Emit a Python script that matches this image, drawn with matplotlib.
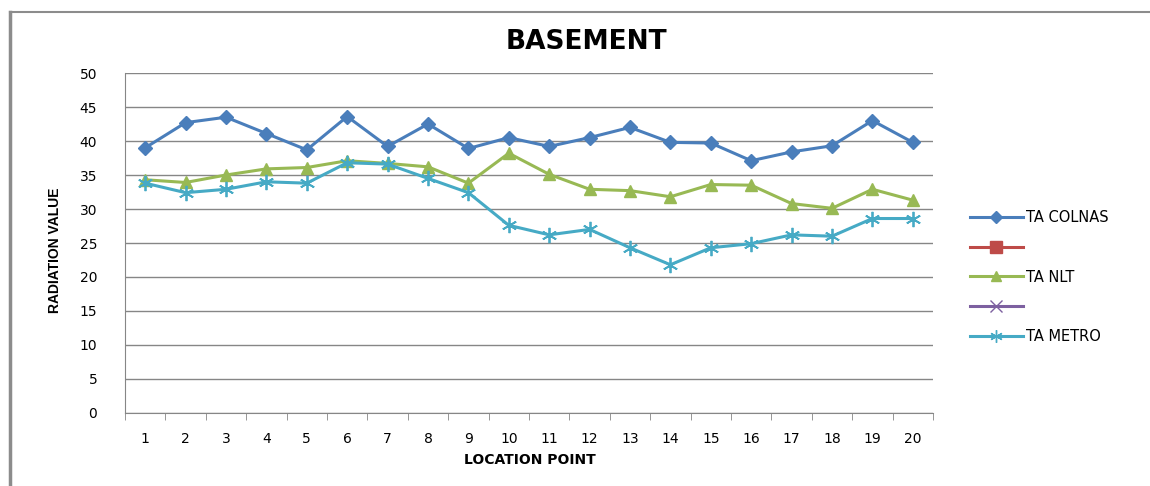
import numpy as np
import matplotlib
matplotlib.use("Agg")
import matplotlib.pyplot as plt
from matplotlib.lines import Line2D

# data
points = list(range(1, 21))
ta_colnas = [39.0, 42.7, 43.5, 41.1, 38.7, 43.6, 39.2, 42.5, 38.9, 40.5,
             39.2, 40.5, 42.0, 39.8, 39.7, 37.1, 38.4, 39.3, 43.0, 39.8]
ta_nlt = [34.3, 33.9, 35.0, 35.9, 36.1, 37.1, 36.7, 36.2, 33.8, 38.2,
          35.1, 32.9, 32.7, 31.8, 33.6, 33.5, 30.8, 30.1, 32.9, 31.3]
ta_metro = [33.8, 32.4, 32.9, 34.0, 33.8, 36.8, 36.6, 34.5, 32.4, 27.6,
            26.2, 27.0, 24.3, 21.8, 24.3, 24.9, 26.2, 26.0, 28.6, 28.6]
y_ticks = list(range(0, 51, 5))

fig = plt.figure(figsize=(11.5, 4.86), dpi=100)
ax = fig.add_axes([125 / 1150, 1 - 413 / 486, (933 - 125) / 1150, (413 - 73) / 486])

grid_col = "#868686"
ax.plot(points, ta_colnas, color="#4a7ebb", lw=2.2, marker="D", ms=7.5, zorder=3)
ax.plot(points, ta_nlt, color="#98b954", lw=2.2, marker="^", ms=9, zorder=3)
ax.plot(points, ta_metro, color="#46aac5", lw=2.2, marker=(6, 2, 0), ms=11,
        mew=1.3, zorder=3)

ax.set_xlim(0.5, 20.5)
ax.set_ylim(0, 50)
ax.set_yticks(y_ticks)
ax.set_xticks(points)
ax.tick_params(axis="both", labelsize=10, colors="black", length=0, pad=14)
ax.tick_params(axis="y", pad=20)
ax.yaxis.grid(True, color=grid_col, lw=1)
ax.set_axisbelow(True)
for s in ["top", "right"]:
    ax.spines[s].set_visible(False)
ax.spines["left"].set_color(grid_col)
ax.spines["bottom"].set_color(grid_col)
# small outward tick marks like Excel
ax.set_xticks(np.arange(0.5, 21, 1), minor=True)
ax.tick_params(axis="x", which="minor", length=5, color=grid_col, direction="out")
ax.set_yticks(y_ticks, minor=True)
ax.tick_params(axis="y", which="minor", length=5, color=grid_col, direction="out")

fig.text(586 / 1150, 1 - 42 / 486, "BASEMENT", ha="center", va="center",
         fontsize=19, fontweight="bold", family="DejaVu Sans")
fig.text(530 / 1150, 1 - 460 / 486, "LOCATION POINT", ha="center", va="center",
         fontsize=10, fontweight="bold")
fig.text(55 / 1150, 1 - 250 / 486, "RADIATION VALUE", ha="center", va="center",
         rotation=90, fontsize=10, fontweight="bold", family="Liberation Sans")

handles = [
    Line2D([], [], color="#4a7ebb", lw=2.2, marker="D", ms=6),
    Line2D([], [], color="#be4b48", lw=2.2, marker="s", ms=8),
    Line2D([], [], color="#98b954", lw=2.2, marker="^", ms=7),
    Line2D([], [], color="#7d60a0", lw=2.2, marker="x", ms=8, mew=1),
    Line2D([], [], color="#46aac5", lw=2.2, marker=(6, 2, 0), ms=9, mew=1),
]
labels = ["TA COLNAS", "", "TA NLT", "", "TA METRO"]
fig.legend(handles, labels, loc="center left", bbox_to_anchor=(957 / 1150, 1 - 277 / 486),
           frameon=False, fontsize=10.5, handlelength=3.6, handletextpad=0.2,
           labelspacing=1.0)

# chart area border (left and top)
fig.add_artist(Line2D([10 / 1150, 10 / 1150], [0, 1 - 12 / 486], color="#8c8c8c", lw=2.5))
fig.add_artist(Line2D([10 / 1150, 1], [1 - 12 / 486, 1 - 12 / 486], color="#8c8c8c", lw=1.5))

fig.savefig("out.png", dpi=100)
